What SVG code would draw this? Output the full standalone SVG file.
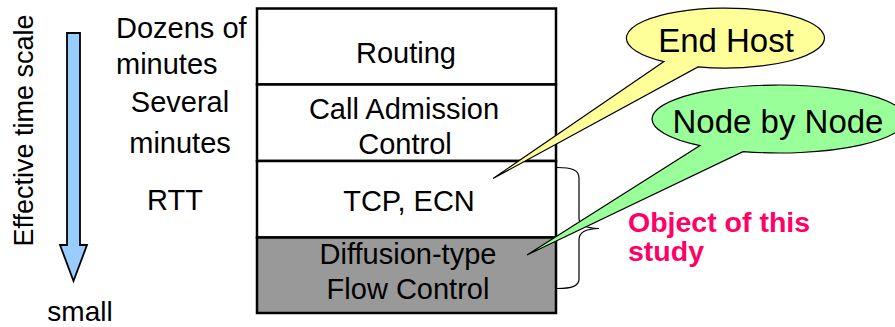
<svg xmlns="http://www.w3.org/2000/svg" width="895" height="327" viewBox="0 0 895 327">
<style>
text{font-family:"Liberation Sans",Arial,sans-serif;fill:#000}
.t{font-size:29px}
.c{text-anchor:middle}
.row{stroke:#000;stroke-width:2.5}
.call{stroke:#000;stroke-width:1.2}
.big{font-size:33px}
.st{font-size:28.5px;font-weight:bold;fill:#ff0066}
</style>
<rect width="895" height="327" fill="#fff"/>
<g id="time-axis">
<text class="c" font-size="27" transform="translate(33,130.5) rotate(-90)">Effective time scale</text>
<path d="M67 33 L80 33 L80 245 L87 245 L73.5 281 L60 245 L67 245 Z" fill="#99ccff" stroke="#000" stroke-width="1.8" stroke-linejoin="miter"/>
<text class="c" font-size="28" x="80" y="321">small</text>
</g>
<g id="labels">
<text class="t" x="116" y="38">Dozens of</text>
<text class="t" x="116" y="74">minutes</text>
<text class="t c" x="180" y="112">Several</text>
<text class="t c" x="180" y="153">minutes</text>
<text class="t c" x="175" y="210">RTT</text>
</g>
<g id="routing">
<rect class="row" x="257" y="8.5" width="299" height="76" fill="#fff"/>
<text class="t c" x="406" y="63">Routing</text>
</g>
<g id="call-admission">
<rect class="row" x="257" y="84.5" width="299" height="76.5" fill="#fff"/>
<text class="t c" x="404" y="119">Call Admission</text>
<text class="t c" x="405" y="154">Control</text>
</g>
<g id="tcp-ecn">
<rect class="row" x="257" y="161" width="299" height="76.5" fill="#fff"/>
<text class="t c" x="409" y="211">TCP, ECN</text>
</g>
<g id="diffusion">
<rect class="row" x="257" y="237.5" width="299" height="75.5" fill="#999"/>
<text class="t c" x="408" y="264">Diffusion-type</text>
<text class="t c" x="408" y="299">Flow Control</text>
</g>
<g id="connectors">
<path d="M557 167.5 C572 167.5 579 170 579 178 L579 218 C579 225 585 228 599 228.5 C585 229 579 232 579 240 L579 279 C579 286 572 288.5 557 288.5" fill="none" stroke="#000" stroke-width="1.2"/>
</g>
<g id="end-host">
<path class="call" d="M698 66.9 A99 30 0 1 0 664 61.6 L493 178.5 Z" fill="#ffff99"/>
<text class="big c" x="726" y="52">End Host</text>
</g>
<g id="node-by-node">
<path class="call" d="M743 151.6 A127 34 0 1 0 700 145.6 L527 255 Z" fill="#99ff99"/>
<text class="big c" x="778" y="133">Node by Node</text>
</g>
<g id="study">
<text class="st" x="628" y="232">Object of this</text>
<text class="st" x="628" y="261">study</text>
</g>
</svg>
